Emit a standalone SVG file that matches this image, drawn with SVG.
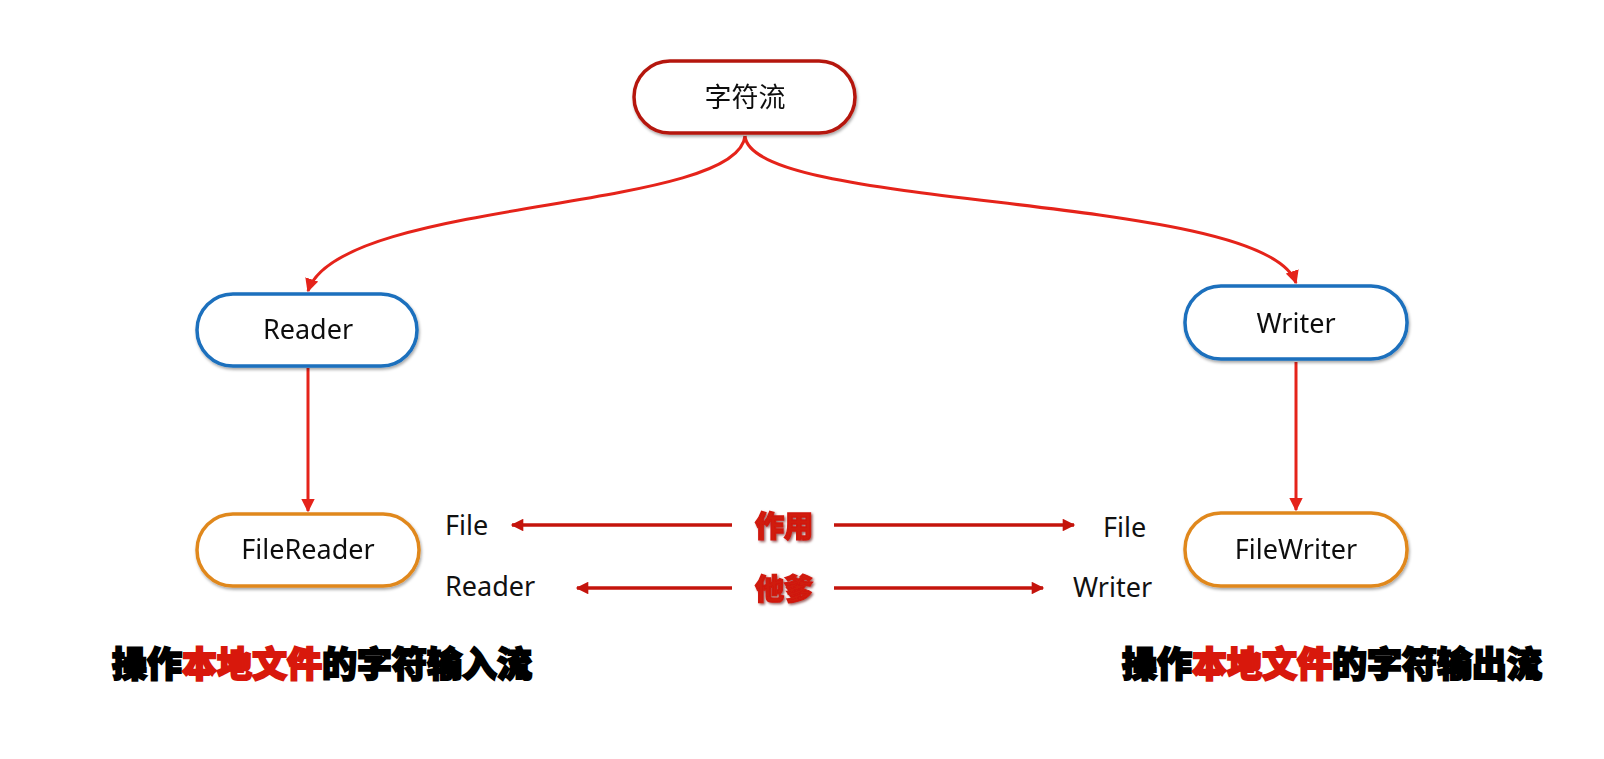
<svg xmlns="http://www.w3.org/2000/svg" width="1604" height="759" viewBox="0 0 1604 759">
<style>
.node rect{fill:#fff;stroke-width:3.5}
.top rect{stroke:#b5170f}
.blue rect{stroke:#1b6fbd}
.orange rect{stroke:#e0881f}
.lbl{font-family:"Noto Sans","Open Sans","Noto Sans CJK SC",sans-serif;font-size:27px;fill:#111;text-anchor:middle}
.cjk{font-family:"Noto Sans CJK SC",sans-serif}
.side{font-family:"Noto Sans","Open Sans",sans-serif;font-size:27px;fill:#111}
.conn{fill:none;stroke:#e5231a;stroke-width:3}
.harr{fill:none;stroke:#c4140c;stroke-width:3.5}
.tag{font-family:"Noto Sans CJK SC",sans-serif;font-weight:900;font-size:29px;fill:#d01a10;stroke:#d01a10;stroke-width:1.5;text-anchor:middle}
.big{font-family:"Noto Sans CJK SC",sans-serif;font-weight:900;font-size:35px;fill:#000;stroke:#000;stroke-width:2;letter-spacing:0px}
.red{fill:#d8180c;stroke:#d8180c}
</style>
<defs>
<filter id="sh" x="-20%" y="-20%" width="140%" height="150%">
<feDropShadow dx="1" dy="2" stdDeviation="1.5" flood-color="#000" flood-opacity="0.35"/>
</filter>
<filter id="ts" x="-10%" y="-20%" width="120%" height="150%">
<feDropShadow dx="1.5" dy="1.5" stdDeviation="1" flood-color="#5a0000" flood-opacity="0.6"/>
</filter>
<marker id="ah" viewBox="0 0 10 10" refX="9" refY="5" markerWidth="4.5" markerHeight="4.5" orient="auto" markerUnits="strokeWidth">
<path d="M0,0 L10,5 L0,10 z" fill="#e5231a"/>
</marker>
<marker id="ah2" viewBox="0 0 10 10" refX="9" refY="5" markerWidth="5" markerHeight="3.6" orient="auto" markerUnits="strokeWidth">
<path d="M0,0 L10,5 L0,10 z" fill="#c4140c"/>
</marker>
</defs>
<rect width="1604" height="759" fill="#fff"/>
<g id="connectors">
<path class="conn" d="M745,136 C738,212 338,198 308,291" marker-end="url(#ah)"/>
<path class="conn" d="M745,136 C752,212 1266,192 1296,283" marker-end="url(#ah)"/>
<path class="conn" d="M308,368 L308,511" marker-end="url(#ah)"/>
<path class="conn" d="M1296,362 L1296,510" marker-end="url(#ah)"/>
<path class="harr" d="M732,525 L512,525" marker-end="url(#ah2)"/>
<path class="harr" d="M834,525 L1074,525" marker-end="url(#ah2)"/>
<path class="harr" d="M732,588 L577,588" marker-end="url(#ah2)"/>
<path class="harr" d="M834,588 L1043,588" marker-end="url(#ah2)"/>
</g>
<g id="n-charstream" class="node top" filter="url(#sh)">
<rect x="634" y="61" width="221" height="72" rx="36"/>
<text class="lbl cjk" x="745" y="107" font-size="29">字符流</text>
</g>
<g id="n-reader" class="node blue" filter="url(#sh)">
<rect x="197" y="294" width="220" height="72" rx="36"/>
<text class="lbl" x="308" y="339">Reader</text>
</g>
<g id="n-writer" class="node blue" filter="url(#sh)">
<rect x="1185" y="286" width="222" height="73" rx="36"/>
<text class="lbl" x="1296" y="333">Writer</text>
</g>
<g id="n-filereader" class="node orange" filter="url(#sh)">
<rect x="197" y="514" width="222" height="72" rx="36"/>
<text class="lbl" x="308" y="559">FileReader</text>
</g>
<g id="n-filewriter" class="node orange" filter="url(#sh)">
<rect x="1185" y="513" width="222" height="73" rx="36"/>
<text class="lbl" x="1296" y="559">FileWriter</text>
</g>
<g id="labels">
<text class="side" x="445" y="535">File</text>
<text class="side" x="445" y="596">Reader</text>
<text class="side" x="1103" y="537">File</text>
<text class="side" x="1073" y="597">Writer</text>
<text class="tag" x="784" y="537" filter="url(#ts)">作用</text>
<text class="tag" x="784" y="600" filter="url(#ts)">他爹</text>
<text class="big" x="112" y="677">操作<tspan class="red">本地文件</tspan>的字符输入流</text>
<text class="big" x="1122" y="677">操作<tspan class="red">本地文件</tspan>的字符输出流</text>
</g>
</svg>
